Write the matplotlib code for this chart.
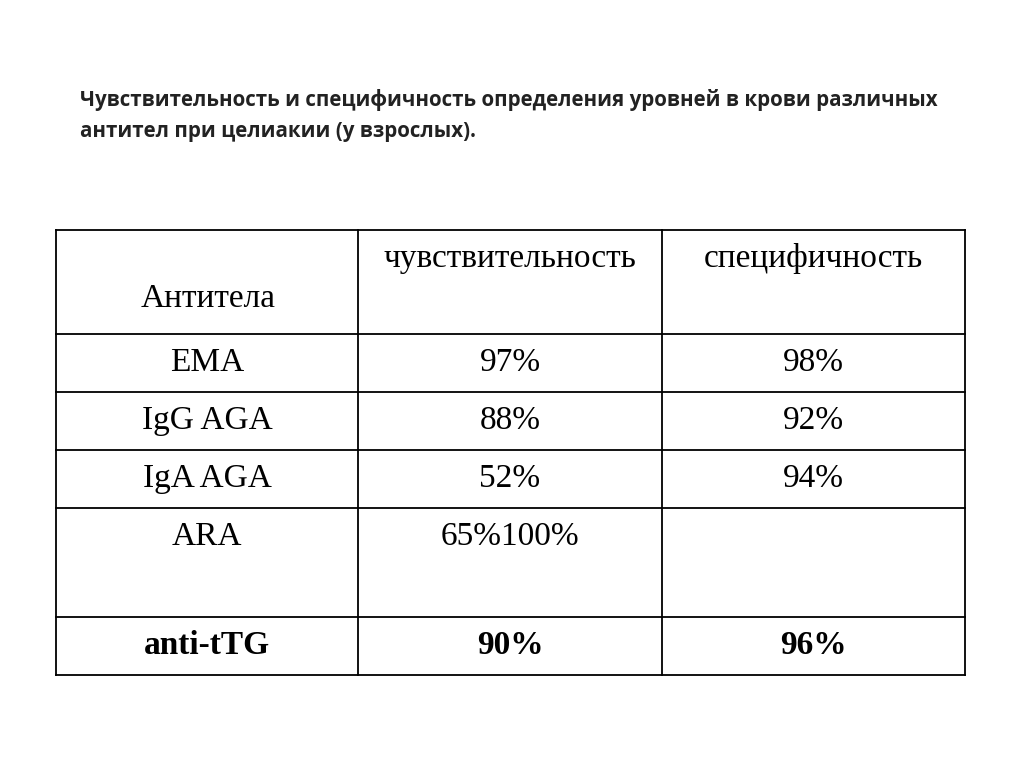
import matplotlib.pyplot as plt

title_lines = [
    "Чувствительность и специфичность определения уровней в крови различных",
    "антител при целиакии (у взрослых).",
]
header = ["Антитела", "чувствительность", "специфичность"]
antibodies = ["EMA", "IgG AGA", "IgA AGA", "ARA", "anti-tTG"]
sensitivity = ["97%", "88%", "52%", "65%100%", "90%"]
specificity = ["98%", "92%", "94%", "", "96%"]

col_edges = [56, 358, 662, 965]
row_edges = [230, 334, 392, 450, 508, 617, 675]

fig = plt.figure(figsize=(10.24, 7.67), dpi=100)
ax = fig.add_axes([0, 0, 1, 1])
ax.set_xlim(0, 1024)
ax.set_ylim(767, 0)
ax.axis("off")

for i, line in enumerate(title_lines):
    ax.text(80, 100 + i * 31, line, fontsize=14.8, fontweight="bold",
            family="Open Sans", va="center", ha="left", color="#222222")

for x in col_edges:
    ax.plot([x, x], [row_edges[0], row_edges[-1]], color="black", lw=1.3)
for y in row_edges:
    ax.plot([col_edges[0], col_edges[-1]], [y, y], color="black", lw=1.3)

centers = [(col_edges[i] + col_edges[i + 1]) / 2 for i in range(3)]
serif = dict(family="Liberation Serif", fontsize=24, va="center", ha="center")

ax.text(centers[0] + 1, 299, header[0], **serif)
ax.text(centers[1], 259, header[1], **serif)
ax.text(centers[2], 259, header[2], **serif)

for r, (name, sens, spec) in enumerate(zip(antibodies, sensitivity, specificity)):
    top = row_edges[r + 1]
    y = top + 29
    w = "bold" if r == len(antibodies) - 1 else "normal"
    ax.text(centers[0], y, name, fontweight=w, **serif)
    ax.text(centers[1], y, sens, fontweight=w, **serif)
    ax.text(centers[2], y, spec, fontweight=w, **serif)

fig.savefig("out.png", dpi=100, facecolor="white")
